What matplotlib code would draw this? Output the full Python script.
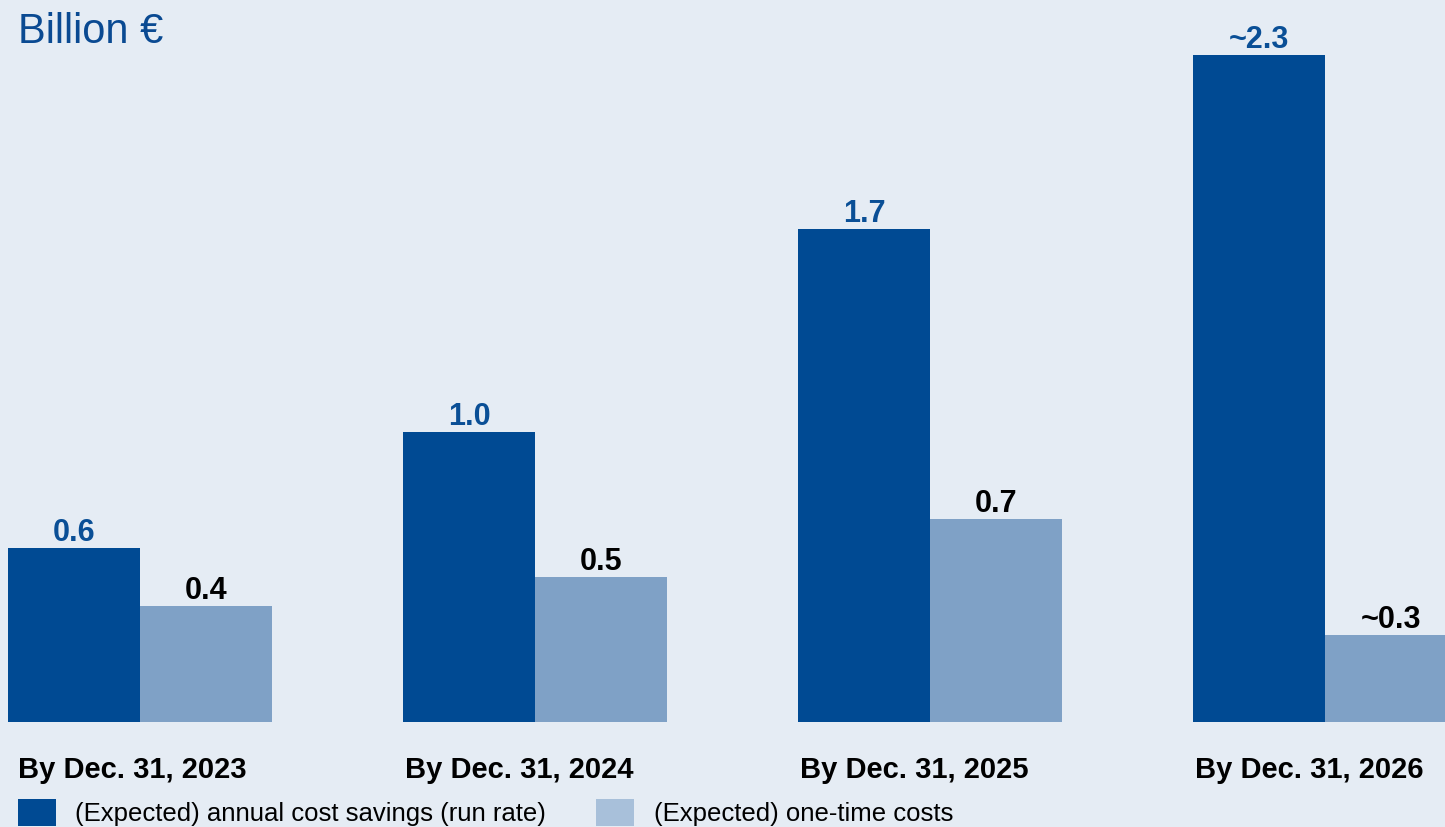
import matplotlib
matplotlib.use("Agg")
import matplotlib.pyplot as plt
from matplotlib.patches import Rectangle
import numpy as np

categories = ["By Dec. 31, 2023", "By Dec. 31, 2024", "By Dec. 31, 2025", "By Dec. 31, 2026"]
savings = [0.6, 1.0, 1.7, 2.3]
savings_labels = ["0.6", "1.0", "1.7", "~2.3"]
costs = [0.4, 0.5, 0.7, 0.3]
costs_labels = ["0.4", "0.5", "0.7", "~0.3"]
series_names = ["(Expected) annual cost savings (run rate)", "(Expected) one-time costs"]

W, H = 1445, 828
DARK = "#004A93"
LIGHT = "#7FA1C6"
LIGHT_LEG = "#A8C0DA"
BG = "#E5ECF4"
FONT = ["Liberation Sans", "DejaVu Sans"]
plt.rcParams["font.family"] = FONT

fig = plt.figure(figsize=(W / 100, H / 100), dpi=100, facecolor=BG)
ax = fig.add_axes([0, 0, 1, 1])
ax.set_facecolor(BG)
for s in ax.spines.values():
    s.set_visible(False)
ax.set_xticks([])
ax.set_yticks([])

spacing = 395.0
px_per_unit = 290.0
x0 = 140.0
base = 723.0
ax.set_xlim(-x0 / spacing, (W - x0) / spacing)
ax.set_ylim(-(H - base) / px_per_unit, base / px_per_unit)

x = np.arange(len(categories))
w = 132.0 / spacing
ax.bar(x - w / 2, savings, width=w, color=DARK, linewidth=0)
ax.bar(x + w / 2, costs, width=w, color=LIGHT, linewidth=0)

off = 8 * 72 / 100
for xi, v, lab in zip(x, savings, savings_labels):
    ax.annotate(lab, (xi - w / 2, v), xytext=(0, off), textcoords="offset points",
                ha="center", va="baseline", fontsize=22, fontweight="bold", color="#0A4F96")
for xi, v, lab in zip(x, costs, costs_labels):
    ax.annotate(lab, (xi + w / 2, v), xytext=(0, off), textcoords="offset points",
                ha="center", va="baseline", fontsize=22, fontweight="bold", color="black")

label_y = (base - 778) / px_per_unit
for i, (xi, cat) in enumerate(zip(x, categories)):
    lx = xi - w + (10 if i == 0 else 1.5) / spacing
    ax.text(lx, label_y, cat, ha="left", va="baseline", fontsize=21,
            fontweight="bold", color="black")

fig.text(18 / W, 1 - 43 / H, "Billion €", ha="left", va="baseline",
         fontsize=30, color="#0A4A92")

# legend
fig.add_artist(Rectangle((18 / W, 1 - 827 / H), 38 / W, 27 / H,
                         transform=fig.transFigure, color=DARK, lw=0))
fig.text(75 / W, 1 - 814 / H, series_names[0], ha="left", va="center",
         fontsize=18.5, color="black")
fig.add_artist(Rectangle((596 / W, 1 - 827 / H), 38 / W, 27 / H,
                         transform=fig.transFigure, color=LIGHT_LEG, lw=0))
fig.text(654 / W, 1 - 814 / H, series_names[1], ha="left", va="center",
         fontsize=18.5, color="black")

fig.savefig("out.png", dpi=100, facecolor=BG)
